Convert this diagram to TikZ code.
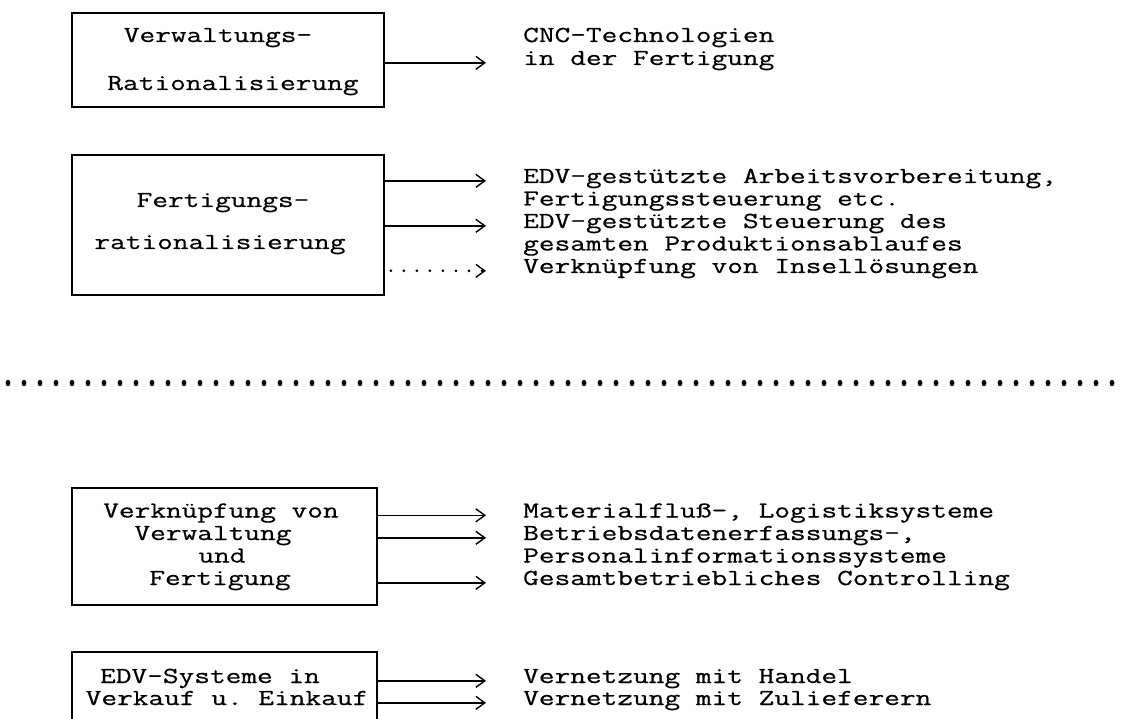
\documentclass[tikz,border=0pt]{standalone}
\usepackage{fontspec}
\setmonofont{Latin Modern Mono}[FakeStretch=1.331, FakeBold=0.6]
\usetikzlibrary{arrows.meta}

\tikzset{
  box/.style={draw, line width=1.8pt, inner sep=0pt},
  lbl/.style={anchor=base, inner sep=0pt},
  txt/.style={anchor=base west, inner sep=0pt},
  >={Straight Barb[length=9pt,width=13pt,line width=1.4pt]},
  conn/.style={->, line width=1.4pt},
  dotconn/.style={->, line width=3pt, line cap=round, dash pattern=on 0pt off 13pt, shorten <=6pt}
}

\begin{document}
\begin{tikzpicture}[x=1pt, y=-1pt, font=\ttfamily\fontsize{22.9pt}{22.5pt}\selectfont]
    \useasboundingbox (0,0) rectangle (1127,719);
    \clip (0,0) rectangle (1127,719);

    % boxes
    \node[box, minimum width=312pt, minimum height=94pt] (verw) at (228,60) {};
    \node[box, minimum width=312pt, minimum height=140pt] (fert) at (228,225) {};
    \node[box, minimum width=305pt, minimum height=117pt] (verkn) at (224.5,546.5) {};
    \node[box, minimum width=305pt, minimum height=100pt] (edv) at (224.5,702) {};

    % box texts
    \node[lbl] (verw1) at (218,42) {Verwaltungs-};
    \node[lbl] (verw2) at (233,90) {Rationalisierung};
    \node[lbl] (fert1) at (223,207) {Fertigungs-};
    \node[lbl] (fert2) at (220,249) {rationalisierung};
    \node[lbl] (verkn1) at (221,517.5) {Verknüpfung von};
    \node[lbl] (verkn2) at (213,540) {Verwaltung};
    \node[lbl] (verkn3) at (222,562.5) {und};
    \node[lbl] (verkn4) at (220,585) {Fertigung};
    \node[lbl] (edv1) at (210,683) {EDV-Systeme in};
    \node[lbl] (edv2) at (227,705) {Verkauf u. Einkauf};

    % right column
    \node[txt] (cnc1) at (523,42) {CNC-Technologien};
    \node[txt] (cnc2) at (523,65) {in der Fertigung};
    \node[txt] (f1) at (523,183) {EDV-gestützte Arbeitsvorbereitung,};
    \node[txt] (f2) at (523,205.5) {Fertigungssteuerung etc.};
    \node[txt] (f3) at (523,228) {EDV-gestützte Steuerung des};
    \node[txt] (f4) at (523,250.5) {gesamten Produktionsablaufes};
    \node[txt] (f5) at (523,273) {Verknüpfung von Insellösungen};
    \node[txt] (v1) at (523,517.5) {Materialfluß-, Logistiksysteme};
    \node[txt] (v2) at (523,540) {Betriebsdatenerfassungs-,};
    \node[txt] (v3) at (523,562.5) {Personalinformationssysteme};
    \node[txt] (v4) at (523,585) {Gesamtbetriebliches Controlling};
    \node[txt] (e1) at (523,683) {Vernetzung mit Handel};
    \node[txt] (e2) at (523,705) {Vernetzung mit Zulieferern};

    % arrows
    \draw[conn] (verw.east |- cnc2.mid west) -- ([xshift=-37pt]cnc2.mid west);
    \draw[conn] (fert.east |- f1.mid west) -- ([xshift=-37pt]f1.mid west);
    \draw[conn] (fert.east |- f3.mid west) -- ([xshift=-37pt]f3.mid west);
    \draw[dotconn] (fert.east |- f5.mid west) -- ([xshift=-37pt]f5.mid west);
    \draw[conn] (verkn.east |- v1.mid west) -- ([xshift=-37pt]v1.mid west);
    \draw[conn] (verkn.east |- v2.mid west) -- ([xshift=-37pt]v2.mid west);
    \draw[conn] (verkn.east |- v4.mid west) -- ([xshift=-37pt]v4.mid west);
    \draw[conn] (edv.east |- e1.mid west) -- ([xshift=-37pt]e1.mid west);
    \draw[conn] (edv.east |- e2.mid west) -- ([xshift=-37pt]e2.mid west);

    % separator
    \foreach \i in {0,...,69}
        \fill ({8+16*\i},383) ellipse (2.4pt and 3.2pt);
\end{tikzpicture}
\end{document}
